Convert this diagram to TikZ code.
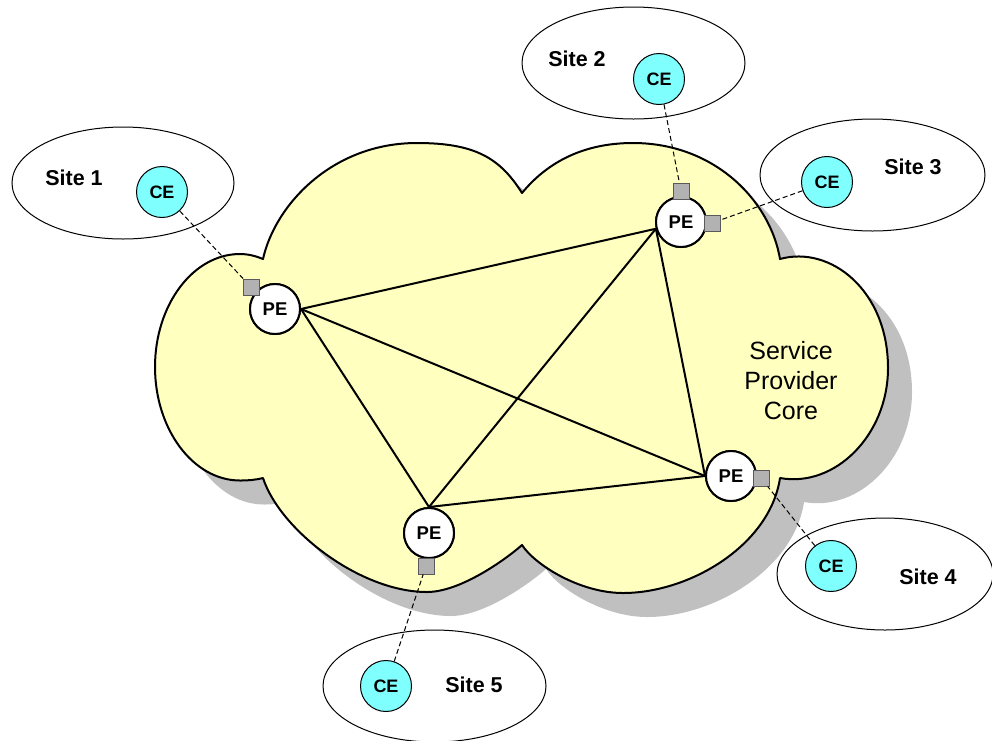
\documentclass[tikz,border=0pt]{standalone}
\usepackage{fontspec}
\setmainfont{Liberation Sans}
\definecolor{cloudfill}{RGB}{255,255,192}
\definecolor{shadowgray}{RGB}{192,192,192}
\definecolor{cefill}{RGB}{128,255,255}
\definecolor{portfill}{RGB}{178,178,178}
\definecolor{portline}{RGB}{90,90,90}
\newcommand\cloudoutline{(263,259) .. controls (275,205) and (332,143) .. (417,143)
  .. controls (475,143) and (500,158) .. (522,193)
  .. controls (545,165) and (580,143) .. (633,143)
  .. controls (714,143) and (770,200) .. (780,259)
  .. controls (830,245) and (888,290) .. (888,368)
  .. controls (888,435) and (835,488) .. (780,478)
  .. controls (770,545) and (690,593) .. (623,593)
  .. controls (580,593) and (535,565) .. (522,545)
  .. controls (505,560) and (460,592) .. (427,592)
  .. controls (360,592) and (280,530) .. (263,478)
  .. controls (255,480) and (248,480.5) .. (240,480.5)
  .. controls (193,480.5) and (155,429) .. (155,367)
  .. controls (155,305) and (193,254) .. (240,254)
  .. controls (248,254) and (256,256) .. (263,259) -- cycle}
\begin{document}
\begin{tikzpicture}[x=1pt,y=-1pt,
  pe/.style={circle,draw=black,fill=white,line width=2pt,minimum size=50pt,inner sep=0pt,
    font=\fontsize{18.5}{20}\selectfont\bfseries},
  ce/.style={circle,draw=black,fill=cefill,line width=1pt,minimum size=51pt,inner sep=0pt,
    font=\fontsize{18}{20}\selectfont\bfseries},
  port/.style={rectangle,draw=portline,fill=portfill,line width=0.9pt,minimum size=16pt,inner sep=0pt},
  sitelabel/.style={font=\fontsize{21.5}{24}\selectfont\bfseries,inner sep=0pt},
  siteoutline/.style={line width=1pt},
  mesh/.style={line width=2pt,draw=black},
  access/.style={line width=1pt,dash pattern=on 5pt off 3pt}]
\useasboundingbox (0,0) rectangle (992,740);

% core cloud with its drop shadow
\fill[shadowgray,shift={(24,24)}] \cloudoutline;
\filldraw[fill=cloudfill,draw=black,line width=2pt,line join=round] \cloudoutline;

% customer sites
\draw[siteoutline] (123,183) ellipse [x radius=111, y radius=56];
\draw[siteoutline] (633.5,63) ellipse [x radius=111.5, y radius=56];
\draw[siteoutline] (872.5,175) ellipse [x radius=112.5, y radius=56];
\draw[siteoutline] (885,574) ellipse [x radius=108, y radius=56];
\draw[siteoutline] (434.5,686) ellipse [x radius=111.5, y radius=56];

\node[sitelabel] (s1) at (74,178) {Site 1};
\node[sitelabel] (s2) at (577,59) {Site 2};
\node[sitelabel] (s3) at (913,167) {Site 3};
\node[sitelabel] (s4) at (928,577) {Site 4};
\node[sitelabel] (s5) at (474,685) {Site 5};

% provider edge routers
\node[pe] (pe1) at (275,309) {};
\node[pe] (pe2) at (681,222) {};
\node[pe] (pe3) at (731,476) {};
\node[pe] (pe4) at (429,533) {};

% full mesh between the PEs
\draw[mesh] (pe1.east) -- (pe2.195);
\draw[mesh] (pe1.east) -- (pe3.west);
\draw[mesh] (pe1.east) -- (pe4.north);
\draw[mesh] (pe4.north) -- (pe2.195);
\draw[mesh] (pe4.north) -- (pe3.west);
\draw[mesh] (pe2.195) -- (pe3.west);

% redraw the PE circles over the mesh ends
\node[pe] at (pe1) {PE};
\node[pe] at (pe2) {PE};
\node[pe] at (pe3) {PE};
\node[pe] at (pe4) {PE};

% interface ports
\node[port] (p1) at (251,287) {};
\node[port] (p2) at (681,191) {};
\node[port] (p3) at (712,223) {};
\node[port] (p4) at (761,478) {};
\node[port] (p5) at (426,566) {};

% customer edge routers
\node[ce] (ce1) at (162,192) {CE};
\node[ce] (ce2) at (659,79) {CE};
\node[ce] (ce3) at (827,182) {CE};
\node[ce] (ce4) at (831,566) {CE};
\node[ce] (ce5) at (386,686) {CE};

% access links
\draw[access] (ce1) -- (p1);
\draw[access] (ce2) -- (p2);
\draw[access] (ce3) -- (p3);
\draw[access] (ce4) -- (p4);
\draw[access] (ce5) -- (p5);

\node[font=\fontsize{25}{30}\selectfont,align=center] (core) at (791,381) {Service\\Provider\\Core};
\end{tikzpicture}
\end{document}
